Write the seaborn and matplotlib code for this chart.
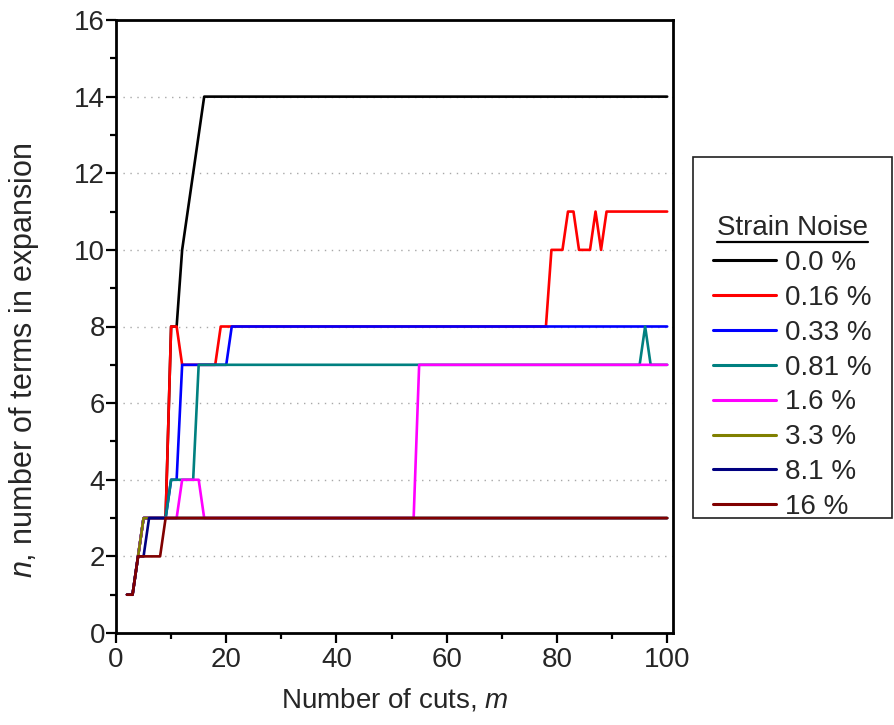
import pandas as pd
import matplotlib.pyplot as plt
import numpy as np
import seaborn as sns
from matplotlib.lines import Line2D
from matplotlib.patches import Rectangle
from matplotlib.ticker import MultipleLocator

# number of cuts m (2 .. 100)
cuts = list(range(2, 101))

# n, number of terms for each strain noise level
noise_0_0 = [1, 1, 2, 3, 3, 3, 3, 3, 8, 8, 10, 11, 12, 13] + [14] * 85
noise_0_16 = ([1, 1, 2, 3, 3, 3, 3, 3, 8, 8] + [7] * 7 + [8] * 60
              + [10, 10, 10, 11, 11, 10, 10, 10, 11, 10] + [11] * 12)
noise_0_33 = [1, 1, 2, 3, 3, 3, 3, 3, 4, 4] + [7] * 9 + [8] * 80
noise_0_81 = [1, 1, 2, 3, 3, 3, 3, 3, 4, 4, 4, 4, 4] + [7] * 81 + [8] + [7] * 4
noise_1_6 = [1, 1, 2, 3, 3, 3, 3, 3, 3, 3, 4, 4, 4, 4] + [3] * 39 + [7] * 46
noise_3_3 = [1, 1, 2] + [3] * 96
noise_8_1 = [1, 1, 2, 2] + [3] * 95
noise_16 = [1, 1, 2, 2, 2, 2, 2] + [3] * 92

labels = ["0.0 %", "0.16 %", "0.33 %", "0.81 %", "1.6 %", "3.3 %", "8.1 %", "16 %"]
series = [noise_0_0, noise_0_16, noise_0_33, noise_0_81,
          noise_1_6, noise_3_3, noise_8_1, noise_16]
colors = ["#000000", "#FF0000", "#0000FF", "#008080",
          "#FF00FF", "#808000", "#000080", "#800000"]

rows = []
for lab, vals in zip(labels, series):
    for m, n in zip(cuts, vals):
        rows.append({"m": m, "n": n, "noise": lab})
df = pd.DataFrame(rows)

sns.set_style("white")
plt.rcParams["font.family"] = ["Liberation Sans", "DejaVu Sans"]
plt.rcParams["mathtext.fontset"] = "custom"
plt.rcParams["mathtext.it"] = "Liberation Sans:italic"
plt.rcParams["mathtext.rm"] = "Liberation Sans"

fig = plt.figure(figsize=(8.94, 7.25), dpi=100)
ax = fig.add_axes([116 / 894, 1 - 633 / 725, (672.7 - 116) / 894, (633 - 20) / 725])

sns.lineplot(data=df, x="m", y="n", hue="noise", hue_order=labels, palette=colors,
             estimator=None, sort=False, linewidth=1.9, ax=ax, legend=True)

ax.set_xlim(0, 101)
ax.set_ylim(0, 16)
ax.xaxis.set_major_locator(MultipleLocator(20))
ax.xaxis.set_minor_locator(MultipleLocator(10))
ax.yaxis.set_major_locator(MultipleLocator(2))
ax.yaxis.set_minor_locator(MultipleLocator(1))
ax.tick_params(which="major", direction="out", length=7, width=1.6, labelsize=20,
               pad=3, bottom=True, left=True, top=False, right=False, color="black")
ax.tick_params(axis="y", which="major", pad=1)
ax.tick_params(which="minor", direction="out", length=4, width=1.6,
               bottom=True, left=True, top=False, right=False, color="black")
for s in ax.spines.values():
    s.set_linewidth(2.0)
    s.set_color("black")

ax.grid(False)
for yv in range(2, 16, 2):
    ax.axhline(yv, color="#a8a8a8", lw=1.0, linestyle=(0, (1, 4)), zorder=0)

ax.set_xlabel("Number of cuts, $m$", fontsize=20, labelpad=10)
ax.set_ylabel("$n$, number of terms in expansion", fontsize=22)
ax.yaxis.set_label_coords(-0.135, 0.445)

handles, labs = ax.get_legend_handles_labels()
ax.get_legend().remove()
for h in handles:
    h.set_linewidth(2.2)
leg = fig.legend(handles, labs, title="Strain Noise", loc="upper left",
                 bbox_to_anchor=(713 / 894, 1 - 215 / 725), frameon=False,
                 fontsize=20, title_fontsize=20, handlelength=2.27,
                 handletextpad=0.32, labelspacing=0.32, borderpad=0,
                 borderaxespad=0)

fig.add_artist(Rectangle((693 / 894, 1 - 518 / 725), (892 - 693) / 894,
                         (518 - 157) / 725, transform=fig.transFigure,
                         fill=False, edgecolor="#202020", lw=1.2))

fig.canvas.draw()
bb = leg.get_title().get_window_extent()
inv = fig.transFigure.inverted()
(x0, y0), (x1, _) = inv.transform([(bb.x0, bb.y0 - 1), (bb.x1, bb.y0 - 1)])
fig.add_artist(Line2D([x0, x1], [y0, y0], transform=fig.transFigure,
                      color="black", lw=1.6))

plt.savefig("out.png", dpi=100)
